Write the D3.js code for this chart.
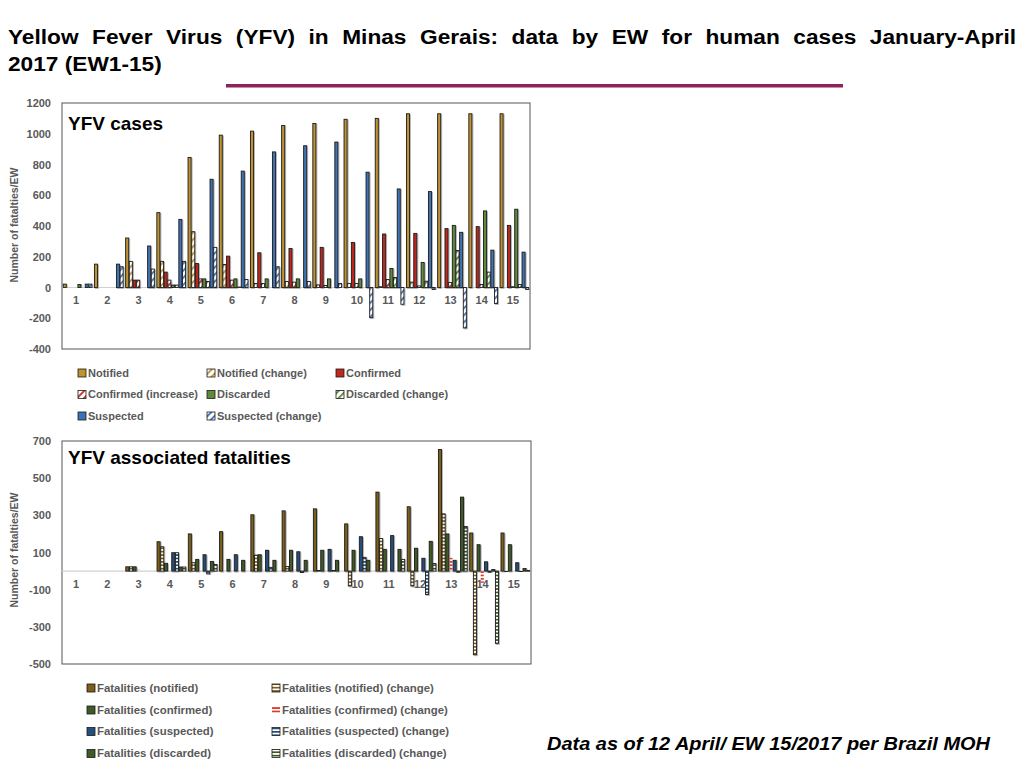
<!DOCTYPE html>
<html>
<head>
<meta charset="utf-8">
<script src="https://cdn.jsdelivr.net/npm/d3@7"></script>
<style>
  body { margin: 0; background: #fff; }
  svg { display: block; font-family: "Liberation Sans", Arial, sans-serif; }
</style>
</head>
<body>
<div id="chart"></div>
<script>
// epidemiological weeks
let weeks = [1, 2, 3, 4, 5, 6, 7, 8, 9, 10, 11, 12, 13, 14, 15]

// YFV cases (top panel)
let notified        = [22, 152, 322, 487, 846, 991, 1017, 1054, 1067, 1094, 1100, 1130, 1130, 1130, 1130]
let notifiedChange  = [0, 0, 170, 170, 363, 150, 26, 39, 17, 26, 5, 35, 0, 0, 0]
let confirmed       = [0, 0, 48, 100, 156, 204, 226, 254, 261, 293, 348, 352, 383, 396, 404]
let confirmedInc    = [0, 0, 48, 48, 56, 48, 26, 35, 13, 26, 52, 10, 33, 20, 5]
let discarded       = [20, 0, 0, 16, 56, 56, 56, 56, 56, 56, 124, 163, 404, 498, 509]
let discardedChange = [0, 0, 0, 16, 39, 3, 0, 0, 0, 0, 65, 41, 241, 100, 20]
let suspected       = [22, 152, 270, 443, 704, 757, 882, 922, 946, 750, 641, 624, 359, 243, 230]
let suspectedChange = [22, 135, 120, 170, 261, 52, 135, 39, 26, -196, -109, -13, -263, -104, -13]
let casesTicks = [-400, -200, 0, 200, 400, 600, 800, 1000, 1200]

// YFV associated fatalities (bottom panel)
let fatNotified        = [0, 0, 23, 158, 200, 212, 303, 324, 335, 254, 425, 346, 654, 205, 205]
let fatNotifiedChange  = [0, 0, 23, 131, 45, 0, 86, 25, 5, -80, 175, -80, 308, -450, -3]
let fatConfirmed       = [0, 0, 23, 42, 63, 63, 88, 112, 112, 112, 117, 123, 200, 142, 142]
let fatConfirmedChange = [0, 0, 8, 5, 5, 0, 8, 8, 0, 0, 3, 0, 72, -63, 0]
let fatSuspected       = [0, 0, 0, 99, 88, 88, 112, 104, 117, 185, 191, 69, 58, 50, 45]
let fatSuspectedChange = [0, 0, 0, 99, -15, 0, 20, -8, 5, 74, 0, -126, -6, -6, -4]
let fatDiscarded       = [0, 0, 0, 22, 52, 58, 58, 58, 58, 58, 117, 160, 398, 10, 15]
let fatDiscardedChange = [0, 0, 0, 22, 36, 0, 0, 0, 0, 0, 63, 41, 240, -389, 5]
let fatTicks = [-500, -300, -100, 100, 300, 500, 700]

let width = 1024, height = 768
let svg = d3.select("#chart").append("svg").attr("width", width).attr("height", height)
let defs = svg.append("defs")

let grey = "#595959"

// Excel-ish soft shadow round the bars
defs.append("filter").attr("id", "shadow").attr("x", "-50%").attr("y", "-10%").attr("width", "200%").attr("height", "120%")
  .append("feDropShadow").attr("dx", 0.8).attr("dy", 0.8).attr("stdDeviation", 0.6)
  .attr("flood-color", "#888").attr("flood-opacity", 0.8)

// diagonal hatch for the top panel's "change" series
function diagPattern(id, color) {
  let p = defs.append("pattern").attr("id", id).attr("patternUnits", "userSpaceOnUse")
    .attr("width", 5).attr("height", 5).attr("patternTransform", "rotate(-45)")
  p.append("rect").attr("width", 5).attr("height", 5).attr("fill", "#fff")
  p.append("rect").attr("width", 5).attr("height", 1.8).attr("fill", color)
}
// horizontal stripes for the bottom panel's "change" series
function stripePattern(id, color, bg) {
  let p = defs.append("pattern").attr("id", id).attr("patternUnits", "userSpaceOnUse")
    .attr("width", 4).attr("height", 3.4)
  p.append("rect").attr("width", 4).attr("height", 3.4).attr("fill", bg)
  p.append("rect").attr("width", 4).attr("height", 1.7).attr("fill", color)
}

let cGold = "#bf9230", cRed = "#c0271e", cGreen = "#5e8a3a", cBlue = "#3f72b5"
diagPattern("hGold", cGold)
diagPattern("hRed", cRed)
diagPattern("hGreen", cGreen)
diagPattern("hBlue", cBlue)

let fGold = "#7d5f17", fGreen = "#3f5a26", fBlue = "#23507f", fRed = "#e0382c"
stripePattern("sGold", fGold, "#fff")
stripePattern("sRed", fRed, "none")
stripePattern("sBlue", fBlue, "#fff")
stripePattern("sGreen", fGreen, "#fff")

let casesSeries = [
  { name: "Notified", values: notified, fill: cGold },
  { name: "Notified (change)", values: notifiedChange, fill: "url(#hGold)" },
  { name: "Confirmed", values: confirmed, fill: cRed },
  { name: "Confirmed (increase)", values: confirmedInc, fill: "url(#hRed)" },
  { name: "Discarded", values: discarded, fill: cGreen },
  { name: "Discarded (change)", values: discardedChange, fill: "url(#hGreen)" },
  { name: "Suspected", values: suspected, fill: cBlue },
  { name: "Suspected (change)", values: suspectedChange, fill: "url(#hBlue)" }
]

let fatSeries = [
  { name: "Fatalities (notified)", values: fatNotified, fill: fGold },
  { name: "Fatalities (notified)  (change)", values: fatNotifiedChange, fill: "url(#sGold)" },
  { name: "Fatalities (confirmed)", values: fatConfirmed, fill: fGreen },
  { name: "Fatalities (confirmed) (change)", values: fatConfirmedChange, fill: "url(#sRed)", noStroke: true },
  { name: "Fatalities (suspected)", values: fatSuspected, fill: fBlue },
  { name: "Fatalities (suspected) (change)", values: fatSuspectedChange, fill: "url(#sBlue)" },
  { name: "Fatalities (discarded)", values: fatDiscarded, fill: fGreen },
  { name: "Fatalities (discarded) (change)", values: fatDiscardedChange, fill: "url(#sGreen)" }
]

// ---------- title ----------
let titleWords = "Yellow Fever Virus (YFV) in Minas Gerais: data by EW for human cases January-April".split(" ")
let stretch = 1.08
let tg = svg.append("g").attr("transform", `translate(8,44) scale(${stretch},1)`)
let wordNodes = titleWords.map(w => tg.append("text").attr("font-size", 21).attr("font-weight", "bold").attr("fill", "#000").text(w))
let widths = wordNodes.map(n => n.node().getComputedTextLength())
let avail = (1016 - 8) / stretch
let gap = (avail - d3.sum(widths)) / (titleWords.length - 1)
let cx = 0
wordNodes.forEach((n, i) => { n.attr("x", cx); cx += widths[i] + gap })
svg.append("text").attr("transform", `translate(8,71) scale(${stretch},1)`)
  .attr("font-size", 21).attr("font-weight", "bold").text("2017 (EW1-15)")

svg.append("line").attr("x1", 226).attr("x2", 843).attr("y1", 85.7).attr("y2", 85.7)
  .attr("stroke", "#8c2457").attr("stroke-width", 3.6)

// ---------- panels ----------
function drawPanel(opts) {
  let x0 = d3.scaleBand().domain(weeks).range([opts.left, opts.right]).paddingInner(0.06).paddingOuter(0.03)
  let x1 = d3.scaleBand().domain(d3.range(opts.series.length)).range([0, x0.bandwidth()])
  let y = d3.scaleLinear().domain(opts.domain).range([opts.bottom, opts.top])

  let g = svg.append("g")

  // plot frame
  g.append("rect").attr("x", opts.left).attr("y", opts.top)
    .attr("width", opts.right - opts.left).attr("height", opts.bottom - opts.top)
    .attr("fill", "none").attr("stroke", "#555").attr("stroke-width", 1)

  // zero line
  g.append("line").attr("x1", opts.left).attr("x2", opts.right)
    .attr("y1", y(0)).attr("y2", y(0)).attr("stroke", "#d0d0d0").attr("stroke-width", 1.2)

  // y axis labels, plain integers with a hyphen minus like the original
  let yAxis = d3.axisLeft(y).tickValues(opts.ticks).tickSize(0).tickPadding(11).tickFormat(d => String(d))
  let ya = g.append("g").attr("transform", `translate(${opts.left},0)`).call(yAxis)
  ya.select(".domain").remove()
  ya.selectAll("text").attr("font-size", 11).attr("font-weight", "bold").attr("fill", grey)
    .attr("font-family", "Liberation Sans, Arial, sans-serif")

  // x labels sit just under the zero line
  let xAxis = d3.axisBottom(x0).tickSize(0).tickPadding(9)
  let xa = g.append("g").attr("transform", `translate(-1.5,${y(0)})`).call(xAxis)
  xa.select(".domain").remove()
  xa.selectAll("text").attr("font-size", 11).attr("font-weight", "bold").attr("fill", grey)
    .attr("font-family", "Liberation Sans, Arial, sans-serif")

  // y title
  g.append("text").attr("transform", `translate(18,${opts.yTitleY}) rotate(-90)`)
    .attr("text-anchor", "middle").attr("font-size", 10.5).attr("font-weight", "bold").attr("fill", grey)
    .text("Number of fatalties/EW")

  // panel title
  g.append("text").attr("x", 68).attr("y", opts.titleY).attr("font-size", 19).attr("font-weight", "bold")
    .attr("fill", "#000").text(opts.title)

  // bars
  opts.series.forEach((s, si) => {
    g.append("g").selectAll("rect")
      .data(weeks.map((w, i) => ({ week: w, v: s.values[i] })).filter(d => d.v !== 0))
      .join("rect")
      .attr("x", d => x0(d.week) + x1(si) + 0.3)
      .attr("y", d => y(Math.max(0, d.v)))
      .attr("width", x1.bandwidth() - 0.6)
      .attr("height", d => Math.abs(y(d.v) - y(0)))
      .attr("fill", s.fill)
      .attr("stroke", s.noStroke ? "none" : "#1a1a1a")
      .attr("stroke-width", 0.9)
      .attr("filter", s.noStroke ? null : "url(#shadow)")
  })
}

drawPanel({
  left: 62, right: 530, top: 103, bottom: 349,
  domain: [-400, 1200], ticks: casesTicks, series: casesSeries,
  title: "YFV cases", titleY: 130, yTitleY: 225
})

drawPanel({
  left: 62, right: 531, top: 441, bottom: 664,
  domain: [-500, 700], ticks: fatTicks, series: fatSeries,
  title: "YFV associated fatalities", titleY: 464, yTitleY: 550
})

// ---------- legends ----------
function legendItem(x, y, s, size, fontSize) {
  let g = svg.append("g")
  g.append("rect").attr("x", x).attr("y", y - size / 2).attr("width", size).attr("height", size)
    .attr("fill", s.fill).attr("stroke", s.noStroke ? "none" : "#1a1a1a").attr("stroke-width", 0.8)
  g.append("text").attr("x", x + size + 2).attr("y", y).attr("dy", "0.35em")
    .attr("font-size", fontSize).attr("font-weight", "bold").attr("fill", grey).text(s.name)
}

let topCols = [78, 207, 336], topRows = [373, 394.5, 416]
casesSeries.forEach((s, i) => {
  legendItem(topCols[i % 3], topRows[Math.floor(i / 3)], s, 8, 11)
})

let botCols = [87, 272], botRows = [688, 710, 731.5, 753.5]
fatSeries.forEach((s, i) => {
  legendItem(botCols[i % 2], botRows[Math.floor(i / 2)], s, 8, 11.4)
})

// ---------- footnote ----------
svg.append("text").attr("x", 547).attr("y", 750).attr("font-size", 18).attr("font-weight", "bold")
  .attr("font-style", "italic").attr("fill", "#000")
  .attr("textLength", 443).attr("lengthAdjust", "spacingAndGlyphs")
  .text("Data as of 12 April/ EW 15/2017 per Brazil MOH")
</script>
</body>
</html>
